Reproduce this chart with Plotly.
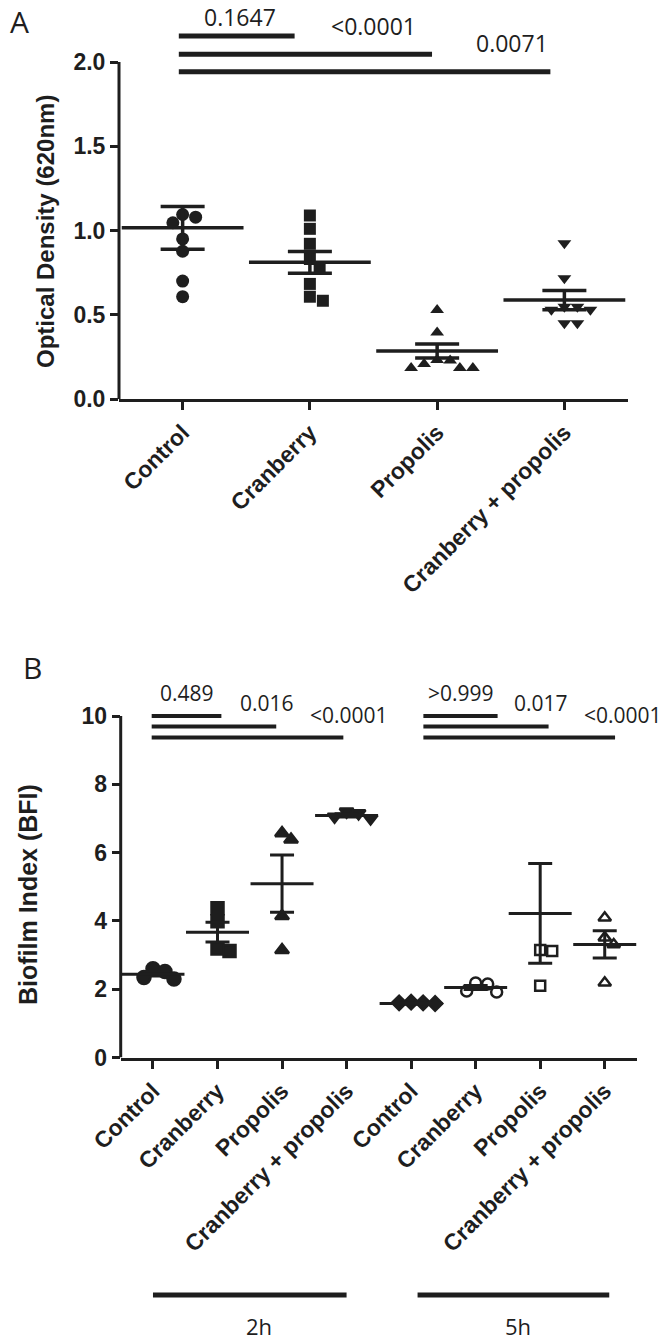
import numpy as np
import plotly.graph_objects as go

W, H = 666, 1341
OFF = 8  # the page body adds an 8 px margin around the figure

# ---------------- data: panel A (optical density, 620 nm) ----------------
a_groups = ["Control", "Cranberry", "Propolis", "Cranberry + propolis"]
a_control = [1.095, 1.046, 1.079, 0.950, 0.877, 0.700, 0.607]
a_cranberry = [1.089, 1.010, 0.921, 0.831, 0.782, 0.683, 0.583, 0.607]
a_propolis = [0.528, 0.395, 0.228, 0.231, 0.184, 0.184, 0.184, 0.208]
a_cranprop = [0.924, 0.716, 0.548, 0.547, 0.449, 0.450, 0.530, 0.530]
a_mean = [1.016, 0.811, 0.285, 0.587]
a_sem = [0.127, 0.065, 0.041, 0.057]
a_sig_end = [0.88, 1.96, 2.89]
a_sig_level = [2.155, 2.046, 1.942]
a_sig_text = ["0.1647", "<0.0001", "0.0071"]
a_sig_text_x = [0.45, 1.50, 2.59]
a_sig_text_y = [2.265, 2.215, 2.11]
a_yticks = [0.0, 0.5, 1.0, 1.5, 2.0]

# ---------------- data: panel B (biofilm index) ----------------
b_groups = ["Control", "Cranberry", "Propolis", "Cranberry + propolis"] * 2
b_2h_control = [2.52, 2.34, 2.60, 2.30]
b_2h_cranberry = [4.37, 3.99, 3.12, 3.19]
b_2h_propolis = [6.38, 6.57, 4.14, 3.15]
b_2h_cranprop = [7.20, 7.00, 7.15, 7.05]
b_5h_control = [1.60, 1.62, 1.58, 1.60]
b_5h_cranberry = [2.15, 2.18, 1.95, 1.92]
b_5h_propolis = [3.15, 3.12, 2.10]
b_5h_cranprop = [4.09, 3.51, 3.31, 2.19]
b_mean = [2.44, 3.67, 5.09, 7.09, 1.58, 2.05, 4.22, 3.31]
b_sem = [0.05, 0.29, 0.84, 0.05, 0.02, 0.06, 1.46, 0.40]
b_sig_start = [-0.02, 4.19]
b_sig_end = [[1.06, 1.91, 2.95], [5.34, 6.13, 7.16]]
b_sig_level = [10.0, 9.69, 9.37]
b_sig_text = [["0.489", "0.016", "<0.0001"], [">0.999", "0.017", "<0.0001"]]
b_sig_text_x = [[0.52, 1.76, 3.03], [4.78, 6.01, 7.29]]
b_sig_text_y = [10.67, 10.38, 10.04]
b_time = ["2h", "5h"]
b_time_span = [[0.0, 3.0], [4.1, 7.07]]
b_time_text_x = [1.65, 5.65]
b_yticks = [0, 2, 4, 6, 8, 10]

# ---------------- layout geometry (pixels in the final picture) ----------------
A_X0, A_X1 = 119, 628
A_Y0 = 399          # pixel of y = 0
A_PPU = 168.5       # pixels per unit
B_X0, B_X1 = 120.7, 637
B_Y0 = 1057.5
B_PPU = 34.15
B_YMAX = 11.0

INK = "#1e1e1e"
AX_FONT = dict(family="Liberation Sans, Arial, sans-serif", size=23, color=INK, weight=700)
P_FONT = "Open Sans, Segoe UI, sans-serif"

A_YMAX = (A_Y0 - OFF) / A_PPU  # plot area reaches the top of the page


def px_x(px):
    return (px - OFF) / W


def px_y(px):
    return min(1.0, max(0.0, 1 - (px - OFF) / H))


def swarm(vals, diam, ppu_y, ppu_x):
    """Simple beeswarm: horizontal offsets (category units) so markers do not overlap."""
    vals = np.asarray(vals, float)
    order = np.argsort(-vals, kind="stable")
    placed = []
    offs = np.zeros(len(vals))
    step = diam / 4.0
    cands = [0.0]
    for k in range(1, 60):
        cands += [k * step, -k * step]
    for i in order:
        ypx = vals[i] * ppu_y
        for c in cands:
            if all((c - px) ** 2 + (ypx - qy) ** 2 >= (0.92 * diam) ** 2 for px, qy in placed):
                placed.append((c, ypx))
                offs[i] = c / ppu_x
                break
    return offs


fig = go.Figure()

# ---------------- Panel A ----------------
a_ppx = (A_X1 - A_X0) / 4.0
a_sets = [
    (a_control, "circle", 13),
    (a_cranberry, "square", 12),
    (a_propolis, "triangle-up", 12),
    (a_cranprop, "triangle-down", 12),
]
for gi, (vals, sym, size) in enumerate(a_sets):
    off = swarm(vals, 13, A_PPU, a_ppx)
    fig.add_trace(go.Scatter(
        x=gi + off, y=vals, mode="markers", xaxis="x", yaxis="y",
        marker=dict(symbol=sym, size=size, color=INK, line=dict(width=0)),
        cliponaxis=False, hoverinfo="skip"))

fig.add_trace(go.Scatter(
    x=list(range(4)), y=a_mean, mode="markers", xaxis="x", yaxis="y",
    marker=dict(symbol="line-ew", size=87, color=INK, line=dict(width=3.5, color=INK)),
    error_y=dict(type="data", array=a_sem, width=22, thickness=3.5, color=INK),
    cliponaxis=False, hoverinfo="skip"))

# ---------------- Panel B ----------------
b_ppx = (B_X1 - B_X0) / 8.0
b_sets = [
    (b_2h_control, "circle", 13),
    (b_2h_cranberry, "square", 12),
    (b_2h_propolis, "triangle-up", 12),
    (b_2h_cranprop, "triangle-down", 12),
    (b_5h_control, "diamond", 11),
    (b_5h_cranberry, "circle-open", 11),
    (b_5h_propolis, "square-open", 10),
    (b_5h_cranprop, "triangle-up-open", 11),
]
for gi, (vals, sym, size) in enumerate(b_sets):
    off = swarm(vals, 12, B_PPU, b_ppx)
    fig.add_trace(go.Scatter(
        x=gi + off, y=vals, mode="markers", xaxis="x2", yaxis="y2",
        marker=dict(symbol=sym, size=size, color=INK, line=dict(width=2.5, color=INK)),
        cliponaxis=False, hoverinfo="skip"))

fig.add_trace(go.Scatter(
    x=list(range(8)), y=b_mean, mode="markers", xaxis="x2", yaxis="y2",
    marker=dict(symbol="line-ew", size=45, color=INK, line=dict(width=3, color=INK)),
    error_y=dict(type="data", array=b_sem, width=12, thickness=3, color=INK),
    cliponaxis=False, hoverinfo="skip"))

shapes = []
annotations = []

# y-axis lines stopping at the top tick
shapes.append(dict(type="line", xref="x domain", yref="y", x0=0, x1=0, y0=0, y1=a_yticks[-1],
                   line=dict(color=INK, width=3)))
shapes.append(dict(type="line", xref="x2 domain", yref="y2", x0=0, x1=0, y0=0, y1=b_yticks[-1],
                   line=dict(color=INK, width=3)))

# significance bars, panel A
for end, lev, txt, tx, ty in zip(a_sig_end, a_sig_level, a_sig_text, a_sig_text_x, a_sig_text_y):
    shapes.append(dict(type="line", xref="x", yref="y", x0=-0.03, x1=end, y0=lev, y1=lev,
                       line=dict(color=INK, width=5)))
    annotations.append(dict(xref="x", yref="y", x=tx, y=ty, text=txt, showarrow=False,
                            font=dict(family=P_FONT, size=23, color=INK)))

# significance bars, panel B
for s, ends, txts, txs in zip(b_sig_start, b_sig_end, b_sig_text, b_sig_text_x):
    for end, lev, txt, tx, ty in zip(ends, b_sig_level, txts, txs, b_sig_text_y):
        shapes.append(dict(type="line", xref="x2", yref="y2", x0=s, x1=end, y0=lev, y1=lev,
                           line=dict(color=INK, width=4)))
        annotations.append(dict(xref="x2", yref="y2", x=tx, y=ty, text=txt, showarrow=False,
                                font=dict(family=P_FONT, size=21, color=INK)))

# time group bars
for lab, span, tx in zip(b_time, b_time_span, b_time_text_x):
    shapes.append(dict(type="line", xref="x2", yref="paper", x0=span[0], x1=span[1],
                       y0=px_y(1295), y1=px_y(1295), line=dict(color=INK, width=5)))
    annotations.append(dict(xref="x2", yref="paper", x=tx, y=px_y(1326), text=lab, showarrow=False,
                            font=dict(family=P_FONT, size=22, color=INK), yanchor="middle"))

# panel letters and axis titles
annotations.append(dict(xref="paper", yref="paper", x=px_x(8), y=px_y(22), text="A", showarrow=False,
                        xanchor="left", yanchor="middle", font=dict(family=P_FONT, size=30, color=INK)))
annotations.append(dict(xref="paper", yref="paper", x=px_x(21), y=px_y(667), text="B", showarrow=False,
                        xanchor="left", yanchor="middle", font=dict(family=P_FONT, size=30, color=INK)))
annotations.append(dict(xref="paper", yref="paper", x=px_x(45), y=px_y(232), text="Optical Density (620nm)",
                        textangle=-90, showarrow=False, xanchor="center", yanchor="middle",
                        font=dict(family="Liberation Sans, Arial, sans-serif", size=24, color=INK, weight=700)))
annotations.append(dict(xref="paper", yref="paper", x=px_x(28), y=px_y(895), text="Biofilm Index (BFI)",
                        textangle=-90, showarrow=False, xanchor="center", yanchor="middle",
                        font=dict(family="Liberation Sans, Arial, sans-serif", size=25, color=INK, weight=700)))

axis_common = dict(showgrid=False, zeroline=False, ticks="outside", ticklen=8, tickwidth=3,
                   tickcolor=INK, tickfont=AX_FONT, automargin=False)

fig.update_layout(
    width=W, height=H, margin=dict(l=0, r=0, t=0, b=0, pad=0, autoexpand=False),
    paper_bgcolor="white", plot_bgcolor="white", showlegend=False,
    xaxis=dict(domain=[px_x(A_X0), px_x(A_X1)], range=[-0.5, 3.5], anchor="y",
               tickvals=list(range(4)), ticktext=a_groups, tickangle=-45,
               showline=True, linewidth=3, linecolor=INK, **axis_common),
    yaxis=dict(domain=[px_y(A_Y0), px_y(A_Y0 - A_YMAX * A_PPU)], range=[0, A_YMAX], anchor="x",
               tickvals=a_yticks, tickformat=".1f", showline=False, **axis_common),
    xaxis2=dict(domain=[px_x(B_X0), px_x(B_X1)], range=[-0.5, 7.5], anchor="y2",
                tickvals=list(range(8)), ticktext=b_groups, tickangle=-45,
                showline=True, linewidth=3, linecolor=INK, **axis_common),
    yaxis2=dict(domain=[px_y(B_Y0), px_y(B_Y0 - B_YMAX * B_PPU)], range=[0, B_YMAX], anchor="x2",
                tickvals=b_yticks, showline=False, **axis_common),
    shapes=shapes, annotations=annotations,
)

fig.write_html("out.html")
